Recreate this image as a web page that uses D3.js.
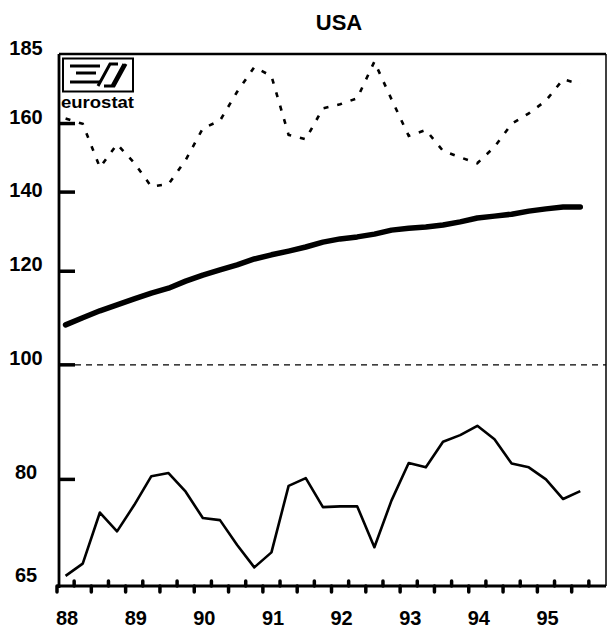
<!DOCTYPE html>
<html><head><meta charset="utf-8">
<script src="https://cdn.jsdelivr.net/npm/d3@7/dist/d3.min.js"></script>
<style>body{margin:0;background:#fff}svg{display:block}</style>
</head><body>
<svg id="chart" width="608" height="635"></svg>
<script>
const title = "USA";
const yearLabels = ["88","89","90","91","92","93","94","95"];
const startYear = 1988;
const yTickValues = [65, 80, 100, 120, 140, 160, 185];
// quarterly series, 1988Q1 .. 1995Q3
const seriesDashed = [161.6,159.9,146.9,153.7,148.2,141.5,142.2,149.0,158.5,160.9,170.2,178.6,175.5,156.5,155.2,164.8,166.1,168.1,180.5,167.7,156.2,158.0,151.7,149.8,148.1,152.9,159.9,163.2,167.3,174.4,172.8];
const seriesThick = [108.1,109.6,111.1,112.4,113.7,115.0,116.1,117.7,119.1,120.3,121.5,122.9,123.9,124.8,125.8,127.0,127.8,128.3,129.0,130.0,130.5,130.8,131.3,132.1,133.1,133.6,134.1,134.9,135.5,136.0,136.0];
const seriesThin = [66.3,67.9,75.0,72.3,76.1,80.5,81.0,78.1,74.2,73.9,70.4,67.4,69.4,79.0,80.2,75.8,75.9,75.9,70.1,76.8,82.6,81.9,86.1,87.2,88.8,86.5,82.5,81.9,80.0,77.0,78.2];
const refValue = 100;

const svg = d3.select("#chart");
const L = 59, R = 606, T = 54, B = 586;
const x = d3.scaleLinear().domain([startYear, startYear + yearLabels.length]).range([57, 606]);
const y = d3.scaleLog().domain([65, 185]).range([586, 49]);
const tq = i => startYear + (i + 0.5) / 4;

// title
svg.append("text").attr("x", 339).attr("y", 30).attr("text-anchor", "middle")
  .attr("font-family", "Liberation Sans, Arial, sans-serif").attr("font-weight", "bold")
  .attr("font-size", 22).text(title);

// reference line at 100
svg.append("line").attr("x1", 75).attr("x2", R).attr("y1", y(refValue)).attr("y2", y(refValue))
  .attr("stroke", "#000").attr("stroke-width", 1.2).attr("stroke-dasharray", "6,5");

// frame
svg.append("line").attr("x1", L).attr("x2", R).attr("y1", T).attr("y2", T).attr("stroke", "#000").attr("stroke-width", 2.5);
svg.append("line").attr("x1", R).attr("x2", R).attr("y1", T).attr("y2", B).attr("stroke", "#000").attr("stroke-width", 1.5);
svg.append("line").attr("x1", L).attr("x2", L).attr("y1", T).attr("y2", B + 2).attr("stroke", "#000").attr("stroke-width", 2.8);
svg.append("line").attr("x1", 57).attr("x2", R).attr("y1", B).attr("y2", B).attr("stroke", "#000").attr("stroke-width", 3.2);

// y ticks and labels
const yt = svg.append("g");
yTickValues.forEach(v => {
  if (v !== 65 && v !== 185) {
    yt.append("line").attr("x1", L).attr("x2", 75).attr("y1", y(v)).attr("y2", y(v))
      .attr("stroke", "#000").attr("stroke-width", 3.5);
  }
  const yy = v === 185 ? T + 1 : (v === 65 ? B - 4 : y(v) + (v === 140 ? 5 : 0));
  yt.append("text").attr("x", 26).attr("y", yy).attr("text-anchor", "middle")
    .attr("font-family", "Liberation Sans, Arial, sans-serif").attr("font-weight", "bold")
    .attr("font-size", 20).text(v);
});

// x ticks (quarterly, alternating) and year labels
const nQ = yearLabels.length * 4;
for (let q = 0; q < nQ; q++) {
  const xx = x(startYear + q / 4);
  const up = q % 2 === 1;
  svg.append("line").attr("x1", xx).attr("x2", xx)
    .attr("y1", up ? B - 5 : B).attr("y2", up ? B : B + 6)
    .attr("stroke", "#000").attr("stroke-width", 3.5).attr("stroke-linecap", "round");
}
yearLabels.forEach((lab, i) => {
  svg.append("text").attr("x", x(startYear + i) - 1).attr("y", 625).attr("text-anchor", "start")
    .attr("font-family", "Liberation Sans, Arial, sans-serif").attr("font-weight", "bold")
    .attr("font-size", 20).text(lab);
});

// series
const line = d3.line().x((d, i) => x(tq(i))).y(d => y(d));
svg.append("path").datum(seriesDashed).attr("d", line).attr("fill", "none")
  .attr("stroke", "#000").attr("stroke-width", 2.6).attr("stroke-dasharray", "5,9");
svg.append("path").datum(seriesThick).attr("d", line).attr("fill", "none")
  .attr("stroke", "#000").attr("stroke-width", 5.5).attr("stroke-linecap", "round").attr("stroke-linejoin", "round");
svg.append("path").datum(seriesThin).attr("d", line).attr("fill", "none")
  .attr("stroke", "#000").attr("stroke-width", 2.6).attr("stroke-linejoin", "round");

// eurostat logo
const lg = svg.append("g");
lg.append("rect").attr("x", 63).attr("y", 58.5).attr("width", 70).attr("height", 33)
  .attr("fill", "#fff").attr("stroke", "#000").attr("stroke-width", 2);
const bars = [[70, 100, 66], [76, 96, 73], [70, 100, 82]];
bars.forEach(b => lg.append("line").attr("x1", b[0]).attr("x2", b[1]).attr("y1", b[2]).attr("y2", b[2])
  .attr("stroke", "#000").attr("stroke-width", 3));
lg.append("path").attr("d", "M98,86 L110,64 L118,64").attr("fill", "none").attr("stroke", "#000").attr("stroke-width", 3);
lg.append("path").attr("d", "M104,86 L114,86 L126,64 M112,86 L124,64").attr("fill", "none").attr("stroke", "#000").attr("stroke-width", 3);
lg.append("text").attr("x", 61).attr("y", 107.5).attr("textLength", 73).attr("lengthAdjust", "spacingAndGlyphs")
  .attr("font-family", "Liberation Sans, Arial, sans-serif").attr("font-weight", "bold")
  .attr("font-size", 16).text("eurostat");
</script>
</body></html>
